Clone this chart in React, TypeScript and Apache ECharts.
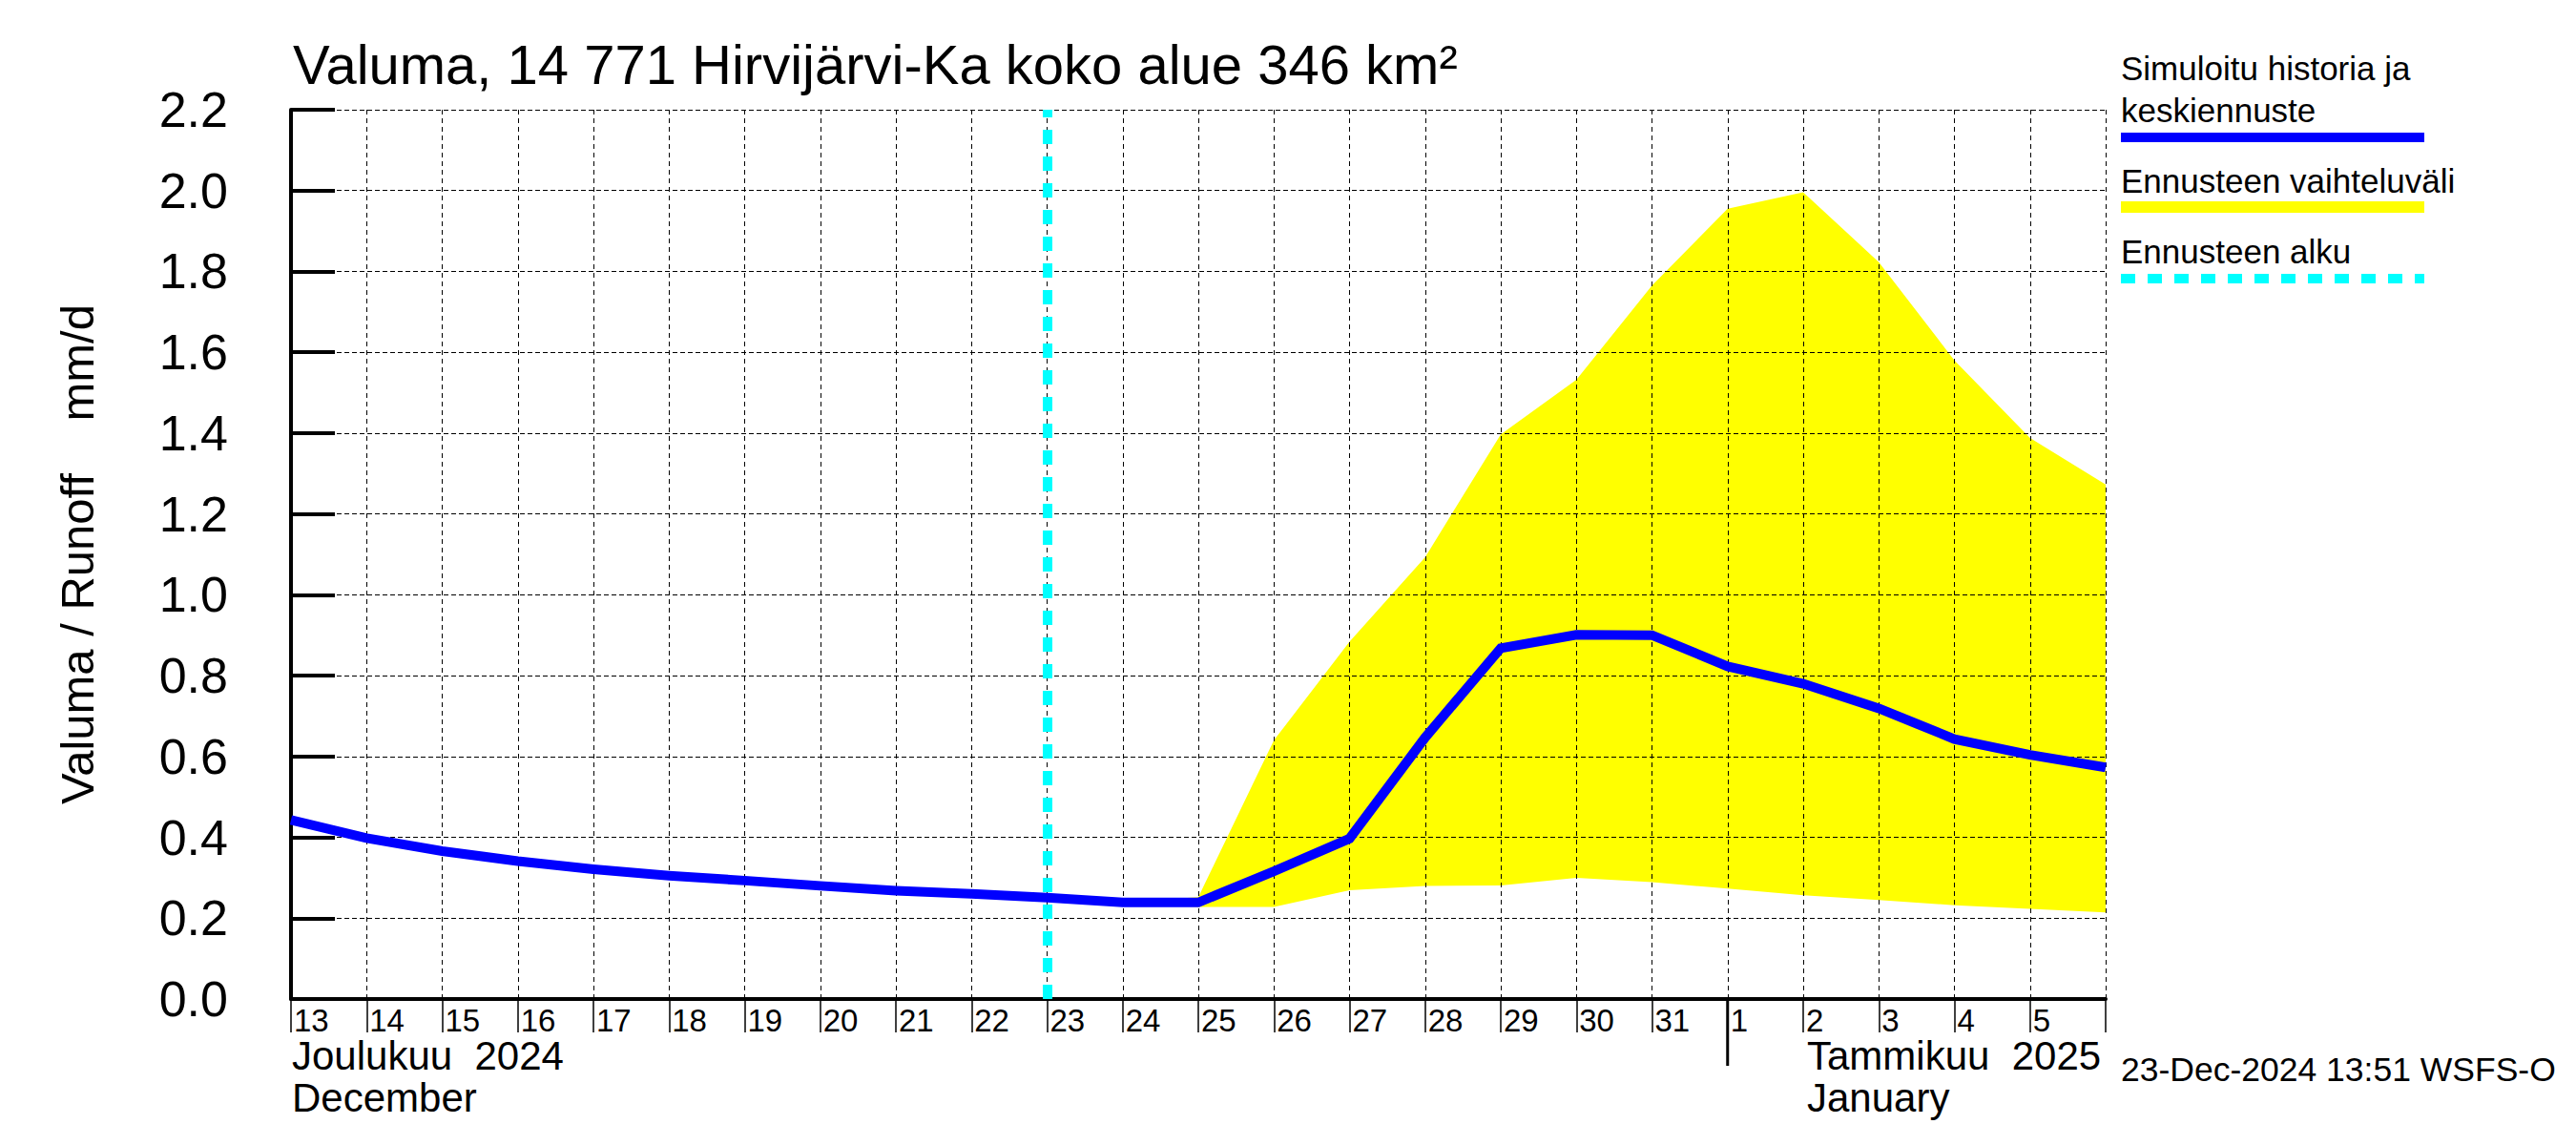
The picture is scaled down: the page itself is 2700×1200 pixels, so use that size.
import React, { useEffect, useRef } from 'react';
import * as echarts from 'echarts';

const dates = [
  '2024-12-13', '2024-12-14', '2024-12-15', '2024-12-16', '2024-12-17', '2024-12-18',
  '2024-12-19', '2024-12-20', '2024-12-21', '2024-12-22', '2024-12-23', '2024-12-24',
  '2024-12-25', '2024-12-26', '2024-12-27', '2024-12-28', '2024-12-29', '2024-12-30',
  '2024-12-31', '2025-01-01', '2025-01-02', '2025-01-03', '2025-01-04', '2025-01-05',
  '2025-01-06',
];

// Simulated history and mean forecast (mm/d)
const simulated = [
  0.443, 0.398, 0.366, 0.341, 0.321, 0.305, 0.293, 0.28, 0.268, 0.26, 0.251, 0.239,
  0.239, 0.316, 0.397, 0.647, 0.868, 0.901, 0.9, 0.823, 0.78, 0.719, 0.643, 0.604, 0.573,
];

// Forecast range (mm/d), '-' = no value
const bandLower: (number | string)[] = [
  '-', '-', '-', '-', '-', '-', '-', '-', '-', '-', '-', 0.238,
  0.228, 0.228, 0.269, 0.28, 0.281, 0.3, 0.289, 0.273, 0.257, 0.245, 0.232, 0.223, 0.214,
];
const bandUpper: (number | string)[] = [
  '-', '-', '-', '-', '-', '-', '-', '-', '-', '-', '-', 0.24,
  0.252, 0.64, 0.884, 1.093, 1.397, 1.532, 1.765, 1.955, 1.996, 1.823, 1.58, 1.388, 1.273,
];

const forecastStart = '2024-12-23';
const monthSplit = '2025-01-01';
const janLabelAt = '2025-01-02';

const titleText = 'Valuma, 14 771 Hirvijärvi-Ka koko alue 346 km²';
const yAxisTitle = 'Valuma / Runoff    mm/d';
const decLabels = ['Joulukuu  2024', 'December'];
const janLabels = ['Tammikuu  2025', 'January'];
const stampText = '23-Dec-2024 13:51 WSFS-O';
const legendSim = ['Simuloitu historia ja', 'keskiennuste'];
const legendRange = 'Ennusteen vaihteluväli';
const legendStart = 'Ennusteen alku';

const FONT = '"Liberation Sans", Arial, Helvetica, sans-serif';

export default function App() {
  const ref = useRef<HTMLDivElement>(null);

  useEffect(() => {
    if (!ref.current) return;
    const chart = echarts.init(ref.current, null, { renderer: 'svg' });
    const rangeDiff = bandUpper.map((u, i) => {
      const l = bandLower[i];
      return typeof u === 'number' && typeof l === 'number' ? +(u - l).toFixed(4) : '-';
    });

    const grid = { left: 305, top: 115, width: 1902, height: 932 };

    chart.setOption({
      animation: false,
      textStyle: { fontFamily: FONT, color: '#000' },
      grid,
      xAxis: {
        type: 'category',
        data: dates,
        boundaryGap: false,
        z: 2.5,
        axisLine: { show: true, onZero: false, lineStyle: { color: '#000', width: 4 } },
        axisTick: { show: true, interval: 0, length: 35, lineStyle: { color: '#000', width: 1.5 } },
        axisLabel: {
          interval: 0,
          align: 'left',
          verticalAlign: 'middle',
          margin: 22,
          padding: [0, 0, 0, 3],
          fontSize: 33,
          color: '#000',
          fontFamily: FONT,
          formatter: (v: string, i: number) => (i === dates.length - 1 ? '' : String(Number(v.slice(8)))),
        },
        splitLine: { show: true, interval: 0, lineStyle: { color: '#000', width: 1, type: [5, 4] } },
      },
      yAxis: {
        type: 'value',
        min: 0,
        max: 2.2,
        interval: 0.2,
        z: 2.5,
        axisLine: { show: true, lineStyle: { color: '#000', width: 4 } },
        axisTick: { show: true, inside: true, length: 46, lineStyle: { color: '#000', width: 4 } },
        axisLabel: {
          fontSize: 52,
          margin: 66,
          color: '#000',
          fontFamily: FONT,
          padding: [0, 0, 18, 0],
          formatter: (v: number) => v.toFixed(1),
        },
        splitLine: { show: true, lineStyle: { color: '#000', width: 1, type: [5, 3] } },
      },
      series: [
        {
          type: 'line',
          stack: 'band',
          data: bandLower,
          symbol: 'none',
          silent: true,
          lineStyle: { opacity: 0 },
          z: 2,
        },
        {
          type: 'line',
          stack: 'band',
          data: rangeDiff,
          symbol: 'none',
          silent: true,
          lineStyle: { opacity: 0 },
          areaStyle: { color: '#ffff00', opacity: 1 },
          z: 2,
        },
        {
          type: 'line',
          data: simulated,
          symbol: 'none',
          silent: true,
          lineStyle: { color: '#0000ff', width: 10, cap: 'butt', join: 'miter' },
          z: 4,
          markLine: {
            silent: true,
            symbol: 'none',
            label: { show: false },
            lineStyle: { color: '#00ffff', width: 10, type: [15, 13], opacity: 1 },
            data: [{ xAxis: forecastStart }],
            z: 5,
          },
        },
      ],
    });

    const xSplit = chart.convertToPixel({ xAxisIndex: 0 }, monthSplit) as number;
    const xDec = chart.convertToPixel({ xAxisIndex: 0 }, dates[0]) as number;
    const xJan = chart.convertToPixel({ xAxisIndex: 0 }, janLabelAt) as number;
    const yBottom = grid.top + grid.height;

    const txt = (text: string, x: number, y: number, size: number, extra: any = {}) => ({
      type: 'text',
      x,
      y,
      silent: true,
      style: {
        text,
        fontSize: size,
        fontFamily: FONT,
        fill: '#000',
        align: 'left',
        verticalAlign: 'middle',
        ...extra,
      },
    });

    chart.setOption({
      graphic: [
        txt(titleText, 307, 67, 58),
        {
          type: 'text',
          x: 81,
          y: 581,
          rotation: Math.PI / 2,
          silent: true,
          style: {
            text: yAxisTitle,
            fontSize: 49,
            fontFamily: FONT,
            fill: '#000',
            align: 'center',
            verticalAlign: 'middle',
          },
        },
        {
          type: 'line',
          silent: true,
          shape: { x1: xSplit, y1: yBottom, x2: xSplit, y2: yBottom + 70 },
          style: { stroke: '#000', lineWidth: 3 },
        },
        txt(decLabels[0], xDec + 1, 1106, 42),
        txt(decLabels[1], xDec + 1, 1150, 42),
        txt(janLabels[0], xJan + 4, 1106, 42),
        txt(janLabels[1], xJan + 4, 1150, 42),
        txt(stampText, 2223, 1121, 35.5),
        txt(legendSim[0], 2223, 71, 35),
        txt(legendSim[1], 2223, 115, 35),
        {
          type: 'line',
          silent: true,
          shape: { x1: 2223, y1: 144, x2: 2541, y2: 144 },
          style: { stroke: '#0000ff', lineWidth: 10 },
        },
        txt(legendRange, 2223, 189, 35),
        {
          type: 'line',
          silent: true,
          shape: { x1: 2223, y1: 217, x2: 2541, y2: 217 },
          style: { stroke: '#ffff00', lineWidth: 12 },
        },
        txt(legendStart, 2223, 263, 35),
        {
          type: 'line',
          silent: true,
          shape: { x1: 2223, y1: 292, x2: 2541, y2: 292 },
          style: { stroke: '#00ffff', lineWidth: 10, lineDash: [15, 13] },
        },
      ],
    });

    return () => chart.dispose();
  }, []);

  return (
    <div
      ref={ref}
      style={{ position: 'fixed', left: 0, top: 0, width: 2700, height: 1200, background: '#fff' }}
    />
  );
}
